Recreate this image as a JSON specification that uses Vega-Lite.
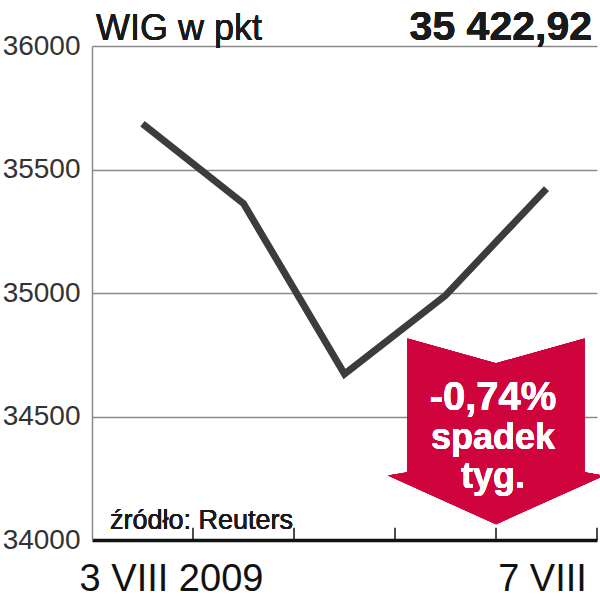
{
  "$schema": "https://vega.github.io/schema/vega-lite/v6.json",
  "width": 505,
  "height": 494,
  "autosize": {"type": "none"},
  "padding": {"left": 92, "top": 46, "right": 3, "bottom": 58},
  "background": "white",
  "config": {"view": {"stroke": null}},
  "data": {"values": [
    {"day": "2009-08-03", "wig": 35685},
    {"day": "2009-08-04", "wig": 35362},
    {"day": "2009-08-05", "wig": 34672},
    {"day": "2009-08-06", "wig": 34990},
    {"day": "2009-08-07", "wig": 35422.92}
  ]},
  "layer": [
    {
      "mark": {"type": "line", "color": "#3c3c3c", "strokeWidth": 7, "strokeJoin": "miter", "strokeMiterLimit": 4, "strokeCap": "butt"},
      "encoding": {
        "x": {
          "field": "day", "type": "ordinal",
          "scale": {"type": "band", "paddingInner": 0, "paddingOuter": 0},
          "axis": {
            "title": null, "domainColor": "#111", "domainWidth": 3.5,
            "ticks": false,
            "labelExpr": "datum.value == '2009-08-03' ? '3 VIII 2009' : (datum.value == '2009-08-07' ? '7 VIII' : '')",
            "labelFont": "Liberation Sans", "labelFontSize": 38, "labelColor": "#111", "labelAngle": 0, "labelLimit": 0,
            "labelPadding": 20, "labelOverlap": false, "labelBound": false, "labelFlush": false,
            "labelOffset": {"condition": {"test": "datum.value == '2009-08-03'", "value": 29}, "value": -4},
            "grid": false
          }
        },
        "y": {
          "field": "wig", "type": "quantitative",
          "scale": {"domain": [34000, 36000], "nice": false, "zero": false},
          "axis": {
            "title": null, "values": [34000, 34500, 35000, 35500, 36000], "format": "d",
            "domainColor": "#8a8a8a", "domainWidth": 1.5, "ticks": false,
            "grid": true, "gridColor": "#8a8a8a", "gridWidth": 1.3,
            "labelFont": "Liberation Sans", "labelFontSize": 28, "labelColor": "#333",
            "labelPadding": 12, "labelBaseline": "middle"
          }
        }
      }
    },
    {
      "mark": {"type": "rule", "color": "#111", "strokeWidth": 1.5},
      "encoding": {
        "x": {"field": "day", "type": "ordinal", "bandPosition": 1},
        "y": {"datum": 34000},
        "y2": {"datum": 34050}
      }
    },
    {
      "mark": {"type": "point", "shape": "M-0.82,-0.86L0,-0.63L0.82,-0.86L0.82,0.38L1,0.41L0,0.86L-1,0.41L-0.82,0.38Z", "size": 46656, "filled": true, "fill": "#d0043c", "strokeWidth": 0, "opacity": 1},
      "encoding": {
        "x": {"datum": "2009-08-06", "type": "ordinal", "bandPosition": 1},
        "y": {"datum": 34440}
      }
    },
    {
      "mark": {"type": "text", "text": "-0,74%", "font": "Liberation Sans", "fontWeight": "bold", "fontSize": 40, "color": "white", "align": "center", "baseline": "alphabetic", "dy": -21, "dx": -3},
      "encoding": {
        "x": {"datum": "2009-08-06", "type": "ordinal", "bandPosition": 1},
        "y": {"datum": 34440}
      }
    },
    {
      "mark": {"type": "text", "text": ["spadek", "tyg."], "lineHeight": 39, "font": "Liberation Sans", "fontWeight": "bold", "fontSize": 36, "color": "white", "align": "center", "baseline": "alphabetic", "dy": 18, "dx": -3},
      "encoding": {
        "x": {"datum": "2009-08-06", "type": "ordinal", "bandPosition": 1},
        "y": {"datum": 34440}
      }
    },
    {
      "mark": {"type": "text", "text": "WIG w pkt", "font": "Liberation Sans", "fontSize": 36, "color": "#1a1a1a", "align": "left", "baseline": "alphabetic", "dx": 4, "dy": -6},
      "encoding": {
        "x": {"datum": "2009-08-03", "type": "ordinal", "bandPosition": 0},
        "y": {"datum": 36000}
      }
    },
    {
      "mark": {"type": "text", "text": "35 422,92", "font": "Liberation Sans", "fontWeight": "bold", "fontSize": 41, "color": "#1a1a1a", "align": "right", "baseline": "alphabetic", "dx": -5, "dy": -6},
      "encoding": {
        "x": {"datum": "2009-08-07", "type": "ordinal", "bandPosition": 1},
        "y": {"datum": 36000}
      }
    },
    {
      "mark": {"type": "text", "text": "źródło: Reuters", "font": "Liberation Sans", "fontSize": 27, "color": "#1a1a1a", "align": "left", "baseline": "alphabetic", "dx": 18, "dy": -11},
      "encoding": {
        "x": {"datum": "2009-08-03", "type": "ordinal", "bandPosition": 0},
        "y": {"datum": 34000}
      }
    }
  ]
}
